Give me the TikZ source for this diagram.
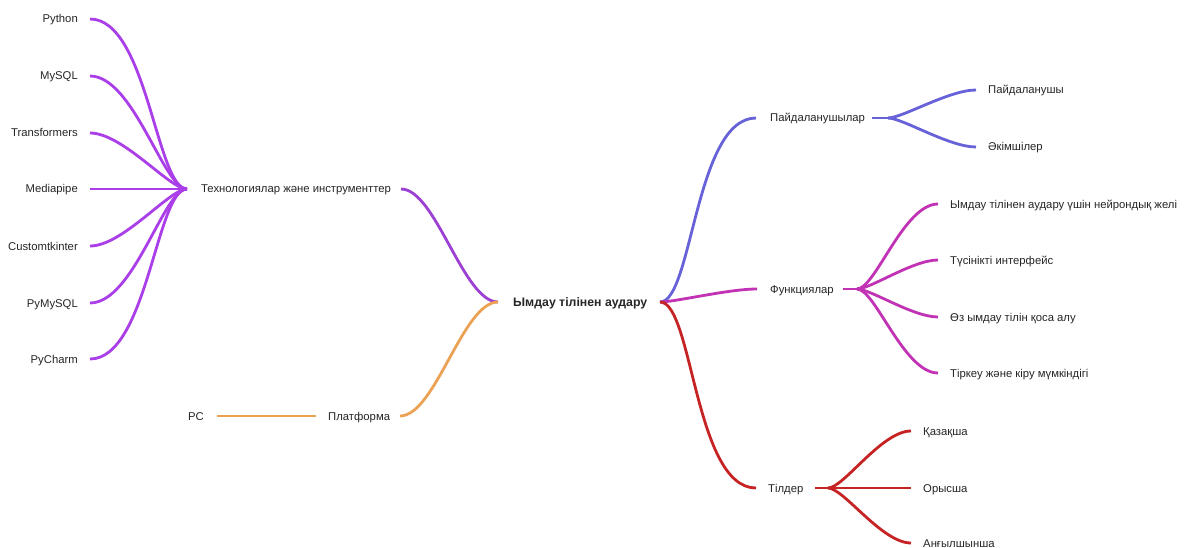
\documentclass[tikz,border=0pt]{standalone}
\usepackage{fontspec}
\setmainfont{Liberation Sans}
\begin{document}
\begin{tikzpicture}[x=1pt,y=-1pt,
  lbl/.style={inner sep=0pt,text height=10pt,text depth=2pt,text=black!85,
    font=\fontsize{11.3}{13}\selectfont},
  lbll/.style={lbl,anchor=east},
  lblr/.style={lbl,anchor=west},
  wire/.style={line width=2.8pt},
  % hub on the left, child on the right
  link/.style={wire,out=0,in=180,out looseness=0.4,in looseness=0.75},
  % hub on the right, child on the left
  linkb/.style={wire,out=180,in=0,out looseness=0.4,in looseness=0.75},
  soft/.style={wire,out=0,in=180,looseness=0.6}]
\definecolor{cpurple}{HTML}{AA3EE8}
\definecolor{cviolet}{HTML}{9C40D4}
\definecolor{corange}{HTML}{ECA254}
\definecolor{cblue}{HTML}{6762D8}
\definecolor{cmagenta}{HTML}{C232B4}
\definecolor{cred}{HTML}{C62424}
\useasboundingbox[fill=white] (0,0) rectangle (1185,548);

% central topic
\node[lblr,font=\fontsize{12.3}{14}\selectfont\bfseries] (root) at (513,302) {Ымдау тілінен аудару};
\coordinate (rootL) at (498,302);
\coordinate (rootR) at (660,302);

% technologies branch
\node[lblr] (tech) at (201,189) {Технологиялар және инструменттер};
\coordinate (techL) at (187,189);
\coordinate (techR) at (401,189);
\foreach \name/\txt/\y in {py/Python/19, my/MySQL/76, tr/Transformers/133,
  mp/Mediapipe/189, ct/Customtkinter/246, pm/PyMySQL/303, pc/PyCharm/359}{
  \node[lbll] (\name) at (78,\y) {\txt};
  \coordinate (\name E) at (90,\y);
  \draw[cpurple,linkb] (techL) to (\name E);
}
\draw[cviolet,soft] (techR) to (rootL);

% platform branch
\node[lblr] (plat) at (328,416) {Платформа};
\node[lbll] (pcnode) at (204,416) {PC};
\coordinate (platL) at (316,416);
\coordinate (platR) at (400,416);
\coordinate (pcE) at (217,416);
\draw[corange,wire] (platL) -- (pcE);
\draw[corange,soft] (platR) to (rootL);

% users branch
\node[lblr] (users) at (770,118) {Пайдаланушылар};
\coordinate (usersL) at (756,118);
\coordinate (usersR) at (888,118);
\coordinate (usersE) at (872,118);
\draw[cblue,wire] (usersE) -- (usersR);
\draw[cblue,link] (rootR) to (usersL);
\node[lblr] (u1) at (988,90) {Пайдаланушы};
\node[lblr] (u2) at (988,147) {Әкімшілер};
\coordinate (u1W) at (976,90);
\coordinate (u2W) at (976,147);
\draw[cblue,link] (usersR) to (u1W);
\draw[cblue,link] (usersR) to (u2W);

% functions branch
\node[lblr] (func) at (770,289) {Функциялар};
\coordinate (funcL) at (757,289);
\coordinate (funcR) at (857,289);
\coordinate (funcE) at (843,289);
\draw[cmagenta,wire] (funcE) -- (funcR);
\draw[cmagenta,link] (rootR) to (funcL);
\foreach \name/\txt/\y in {f1/Ымдау тілінен аудару үшін нейрондық желі/204,
  f2/Түсінікті интерфейс/260, f3/Өз ымдау тілін қоса алу/317,
  f4/Тіркеу және кіру мүмкіндігі/373}{
  \node[lblr] (\name) at (950,\y) {\txt};
  \coordinate (\name W) at (938,\y);
  \draw[cmagenta,link] (funcR) to (\name W);
}

% languages branch
\node[lblr] (lang) at (768,488) {Тілдер};
\coordinate (langL) at (756,488);
\coordinate (langR) at (828,488);
\coordinate (langE) at (815,488);
\draw[cred,wire] (langE) -- (langR);
\draw[cred,link] (rootR) to (langL);
\foreach \name/\txt/\y in {l1/Қазақша/431, l2/Орысша/488, l3/Анғылшынша/543}{
  \node[lblr] (\name) at (923,\y) {\txt};
  \coordinate (\name W) at (911,\y);
  \draw[cred,link] (langR) to (\name W);
}
\end{tikzpicture}
\end{document}
